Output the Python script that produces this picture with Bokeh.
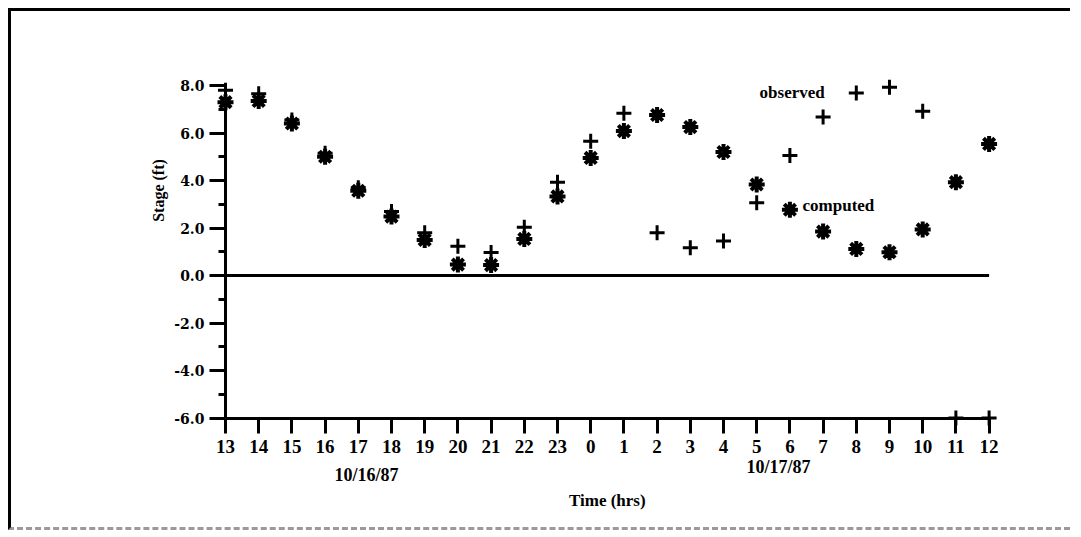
from bokeh.plotting import figure
from bokeh.models import FixedTicker, Range1d, Label, NumeralTickFormatter
from bokeh.embed import file_html
from bokeh.resources import INLINE

# ---- data ----
hour_labels = ["13", "14", "15", "16", "17", "18", "19", "20", "21", "22", "23",
               "0", "1", "2", "3", "4", "5", "6", "7", "8", "9", "10", "11", "12"]
observed = [7.8, 7.65, 6.55, 5.15, 3.7, 2.7, 1.8, 1.23, 0.97, 2.03, 3.93, 5.65,
            6.83, 1.8, 1.17, 1.45, 3.06, 5.05, 6.67, 7.68, 7.93, 6.92, -6.0, -6.0]
computed = [7.3, 7.35, 6.4, 5.0, 3.57, 2.48, 1.5, 0.46, 0.44, 1.54, 3.33, 4.95,
            6.08, 6.76, 6.25, 5.2, 3.83, 2.77, 1.85, 1.12, 0.98, 1.94, 3.93, 5.54]
y_major = [-6, -4, -2, 0, 2, 4, 6, 8]
y_minor = [-5, -3, -1, 1, 3, 5, 7]
date_labels = ["10/16/87", "10/17/87"]
date_pos = [4.25, 16.66]
date_y = [-8.38, -8.05]

x = list(range(len(hour_labels)))
SERIF = "Liberation Serif"

p = figure(width=1062, height=522, output_backend="svg", toolbar_location=None,
           x_axis_location="above",
           x_range=Range1d(-4.337, 25.241), y_range=Range1d(-10.526, 10.695),
           min_border_left=70, min_border_right=10, min_border_top=10, min_border_bottom=8)
p.styles = {"margin-left": "8px", "margin-top": "8px",
            "border-top": "3px solid black", "border-left": "3px solid black",
            "border-bottom": "3px dashed #9a9a9a"}
p.outline_line_color = None
p.xgrid.visible = False
p.ygrid.visible = False
p.background_fill_color = "white"
p.border_fill_color = "white"

# x axis (hours), fixed at the bottom of the stage scale
xa = p.xaxis[0]
xa.fixed_location = y_major[0]
xa.bounds = (x[0], x[-1])
xa.ticker = FixedTicker(ticks=x)
xa.major_label_overrides = {i: s for i, s in zip(x, hour_labels)}
xa.axis_line_width = 3
xa.major_tick_line_width = 3
xa.major_tick_out = 0
xa.major_tick_in = 15
xa.minor_tick_line_color = None
xa.major_label_standoff = -35
xa.major_label_text_font = SERIF
xa.major_label_text_font_style = "bold"
xa.major_label_text_font_size = "19px"
xa.major_label_text_color = "black"

# y axis, fixed at the first hour
ya = p.yaxis[0]
ya.fixed_location = x[0]
ya.bounds = (y_major[0], y_major[-1])
ya.ticker = FixedTicker(ticks=y_major, minor_ticks=y_minor)
ya.formatter = NumeralTickFormatter(format="0.0")
ya.axis_line_width = 3
ya.major_tick_line_width = 3
ya.major_tick_out = 16
ya.major_tick_in = 0
ya.minor_tick_line_width = 3
ya.minor_tick_out = 7
ya.minor_tick_in = 0
ya.major_label_standoff = 5
ya.major_label_text_font = "DejaVu Serif"
ya.major_label_text_font_style = "bold"
ya.major_label_text_font_size = "14px"
ya.major_label_text_color = "black"

# zero line
p.segment(x0=[x[0]], y0=[0], x1=[x[-1]], y1=[0], line_color="black", line_width=3)

# data
p.scatter(x, computed, marker="asterisk", size=16, line_color="black", line_width=4)
p.scatter(x, observed, marker="cross", size=15, line_color="black", line_width=3)

# annotations
def lab(xv, yv, txt, align, size, angle=0.0):
    p.add_layout(Label(x=xv, y=yv, text=txt, text_align=align, text_baseline="middle",
                       angle=angle, text_font=SERIF, text_font_style="bold",
                       text_font_size=size, text_color="black"))

lab(18.05, 7.72, "observed", "right", "17px")
lab(17.38, 2.95, "computed", "left", "17px")
for dx, dy, dt in zip(date_pos, date_y, date_labels):
    lab(dx, dy, dt, "center", "18px")
lab(11.5, -9.47, "Time (hrs)", "center", "17px")
lab(-2.02, 3.58, "Stage (ft)", "center", "16px", angle=1.5708)

open("out.html", "w").write(file_html(p, INLINE))
